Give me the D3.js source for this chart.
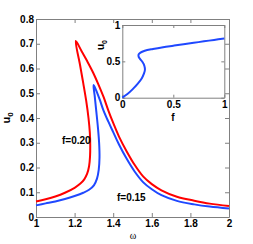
<!DOCTYPE html>
<html>
<head>
<meta charset="utf-8">
<script src="https://cdn.jsdelivr.net/npm/d3@7"></script>
<style>
    body { margin: 0; background: #fff; }
    svg { display: block; }
    .axis text { font-family: "Liberation Sans", Arial, sans-serif; font-weight: bold; font-size: 10px; fill: #000; }
    .axis path, .axis line { stroke: #808080; stroke-width: 1; }
    .lbl { font-family: "Liberation Sans", Arial, sans-serif; font-weight: bold; fill: #000; }
</style>
</head>
<body>
<svg id="chart"></svg>
<script>
// f = 0.20 response curve (omega, u0)
const redOmega = [1.00, 1.05, 1.10, 1.15, 1.20, 1.23, 1.25, 1.265, 1.275, 1.280, 1.281, 1.279, 1.272, 1.260, 1.245, 1.228, 1.206,
    1.235, 1.265, 1.295, 1.322, 1.35, 1.375, 1.40, 1.43, 1.47, 1.51, 1.556, 1.60, 1.65, 1.73, 1.82, 1.90, 2.00];
const redU = [0.063, 0.072, 0.083, 0.098, 0.118, 0.135, 0.152, 0.175, 0.205, 0.245, 0.290, 0.340, 0.400, 0.470, 0.540, 0.615, 0.711,
    0.672, 0.630, 0.585, 0.538, 0.485, 0.430, 0.380, 0.325, 0.265, 0.212, 0.163, 0.133, 0.108, 0.082, 0.066, 0.054, 0.044];

// f = 0.15 response curve
const blueOmega = [1.00, 1.05, 1.10, 1.15, 1.20, 1.245, 1.275, 1.300, 1.316, 1.325, 1.329, 1.327, 1.321, 1.312, 1.304, 1.298,
    1.31, 1.33, 1.35, 1.375, 1.40, 1.43, 1.47, 1.51, 1.556, 1.60, 1.65, 1.73, 1.82, 1.90, 2.00];
const blueU = [0.047, 0.055, 0.063, 0.073, 0.085, 0.098, 0.110, 0.128, 0.155, 0.190, 0.240, 0.300, 0.360, 0.430, 0.490, 0.533,
    0.515, 0.475, 0.430, 0.385, 0.343, 0.293, 0.235, 0.185, 0.140, 0.112, 0.088, 0.065, 0.051, 0.042, 0.034];

// inset: u0 against f
const insetF = [0, 0.05, 0.10, 0.15, 0.19, 0.212, 0.222, 0.216, 0.198, 0.175, 0.160, 0.160, 0.178, 0.22, 0.30, 0.40, 0.50, 0.60, 0.70, 0.80, 0.90, 1.00];
const insetU = [0, 0.050, 0.115, 0.190, 0.265, 0.330, 0.385, 0.440, 0.490, 0.530, 0.565, 0.595, 0.620, 0.645, 0.670, 0.695, 0.715, 0.735, 0.755, 0.775, 0.795, 0.815];

const xTicks = [1, 1.2, 1.4, 1.6, 1.8, 2];
const yTicks = [0, 0.1, 0.2, 0.3, 0.4, 0.5, 0.6, 0.7, 0.8];
const insetTicks = [0, 0.5, 1];

const width = 253, height = 244;
const svg = d3.select('#chart').attr('width', width).attr('height', height);

const plot = { left: 36, right: 229, top: 19, bottom: 217 };
const scales = {
    x: d3.scaleLinear().domain([1, 2]).range([plot.left, plot.right]),
    y: d3.scaleLinear().domain([0, 0.8]).range([plot.bottom, plot.top])
};

const fmt = d => d3.format('~g')(d);

svg.append('g').attr('class', 'axis')
    .attr('transform', `translate(0,${plot.bottom})`)
    .call(d3.axisBottom(scales.x).tickValues(xTicks).tickFormat(fmt).tickSizeInner(-4).tickSizeOuter(0).tickPadding(3));
svg.append('g').attr('class', 'axis')
    .attr('transform', `translate(0,${plot.top})`)
    .call(d3.axisTop(scales.x).tickValues(xTicks).tickFormat('').tickSizeInner(-4).tickSizeOuter(0));
svg.append('g').attr('class', 'axis')
    .attr('transform', `translate(${plot.left},0)`)
    .call(d3.axisLeft(scales.y).tickValues(yTicks).tickFormat(fmt).tickSizeInner(-4).tickSizeOuter(0).tickPadding(2));
svg.append('g').attr('class', 'axis')
    .attr('transform', `translate(${plot.right},0)`)
    .call(d3.axisRight(scales.y).tickValues(yTicks).tickFormat('').tickSizeInner(-4).tickSizeOuter(0));

const line = d3.line()
    .x(d => scales.x(d[0]))
    .y(d => scales.y(d[1]))
    .curve(d3.curveCatmullRom.alpha(0.5));

svg.append('path')
    .datum(redOmega.map((w, i) => [w, redU[i]]))
    .attr('d', line)
    .attr('fill', 'none').attr('stroke', '#ff0000').attr('stroke-width', 2);
svg.append('path')
    .datum(blueOmega.map((w, i) => [w, blueU[i]]))
    .attr('d', line)
    .attr('fill', 'none').attr('stroke', '#1f48ff').attr('stroke-width', 2);

svg.append('text').attr('class', 'lbl').attr('font-size', 10)
    .attr('x', 62).attr('y', 143.5).text('f=0.20');
svg.append('text').attr('class', 'lbl').attr('font-size', 10)
    .attr('x', 117).attr('y', 200.5).text('f=0.15');

svg.append('text')
    .attr('x', 133).attr('y', 238.5)
    .attr('text-anchor', 'middle')
    .attr('font-family', '"Liberation Serif", serif').attr('font-size', 10)
    .text('ω');

const yLabel = svg.append('text').attr('class', 'lbl').attr('font-size', 11)
    .attr('text-anchor', 'middle')
    .attr('transform', `translate(10,118) rotate(-90)`);
yLabel.append('tspan').text('u');
yLabel.append('tspan').attr('font-size', 8).attr('dy', 3).text('0');

// inset
const inset = { left: 122.3, right: 224.3, top: 25, bottom: 97.7 };
const insetScales = {
    x: d3.scaleLinear().domain([0, 1]).range([inset.left, inset.right]),
    y: d3.scaleLinear().domain([0, 1]).range([inset.bottom, inset.top])
};

svg.append('rect')
    .attr('x', inset.left).attr('y', inset.top)
    .attr('width', inset.right - inset.left).attr('height', inset.bottom - inset.top)
    .attr('fill', '#fff');

svg.append('g').attr('class', 'axis')
    .attr('transform', `translate(0,${inset.bottom})`)
    .call(d3.axisBottom(insetScales.x).tickValues(insetTicks).tickFormat(fmt).tickSizeInner(-3).tickSizeOuter(0).tickPadding(3));
svg.append('g').attr('class', 'axis')
    .attr('transform', `translate(0,${inset.top})`)
    .call(d3.axisTop(insetScales.x).tickValues(insetTicks).tickFormat('').tickSizeInner(-3).tickSizeOuter(0));
svg.append('g').attr('class', 'axis')
    .attr('transform', `translate(${inset.left},0)`)
    .call(d3.axisLeft(insetScales.y).tickValues(insetTicks).tickFormat(fmt).tickSizeInner(-3).tickSizeOuter(0).tickPadding(2));
svg.append('g').attr('class', 'axis')
    .attr('transform', `translate(${inset.right},0)`)
    .call(d3.axisRight(insetScales.y).tickValues(insetTicks).tickFormat('').tickSizeInner(-3).tickSizeOuter(0));

const insetLine = d3.line()
    .x(d => insetScales.x(d[0]))
    .y(d => insetScales.y(d[1]))
    .curve(d3.curveCatmullRom.alpha(0.5));

svg.append('path')
    .datum(insetF.map((f, i) => [f, insetU[i]]))
    .attr('d', insetLine)
    .attr('fill', 'none').attr('stroke', '#1f48ff').attr('stroke-width', 2);

svg.append('text').attr('class', 'lbl').attr('font-size', 10)
    .attr('x', 173).attr('y', 120.5).attr('text-anchor', 'middle').text('f');

const insetYLabel = svg.append('text').attr('class', 'lbl').attr('font-size', 10)
    .attr('text-anchor', 'middle')
    .attr('transform', `translate(104,45) rotate(-90)`);
insetYLabel.append('tspan').text('u');
insetYLabel.append('tspan').attr('font-size', 7).attr('dy', 3).text('0');
</script>
</body>
</html>
